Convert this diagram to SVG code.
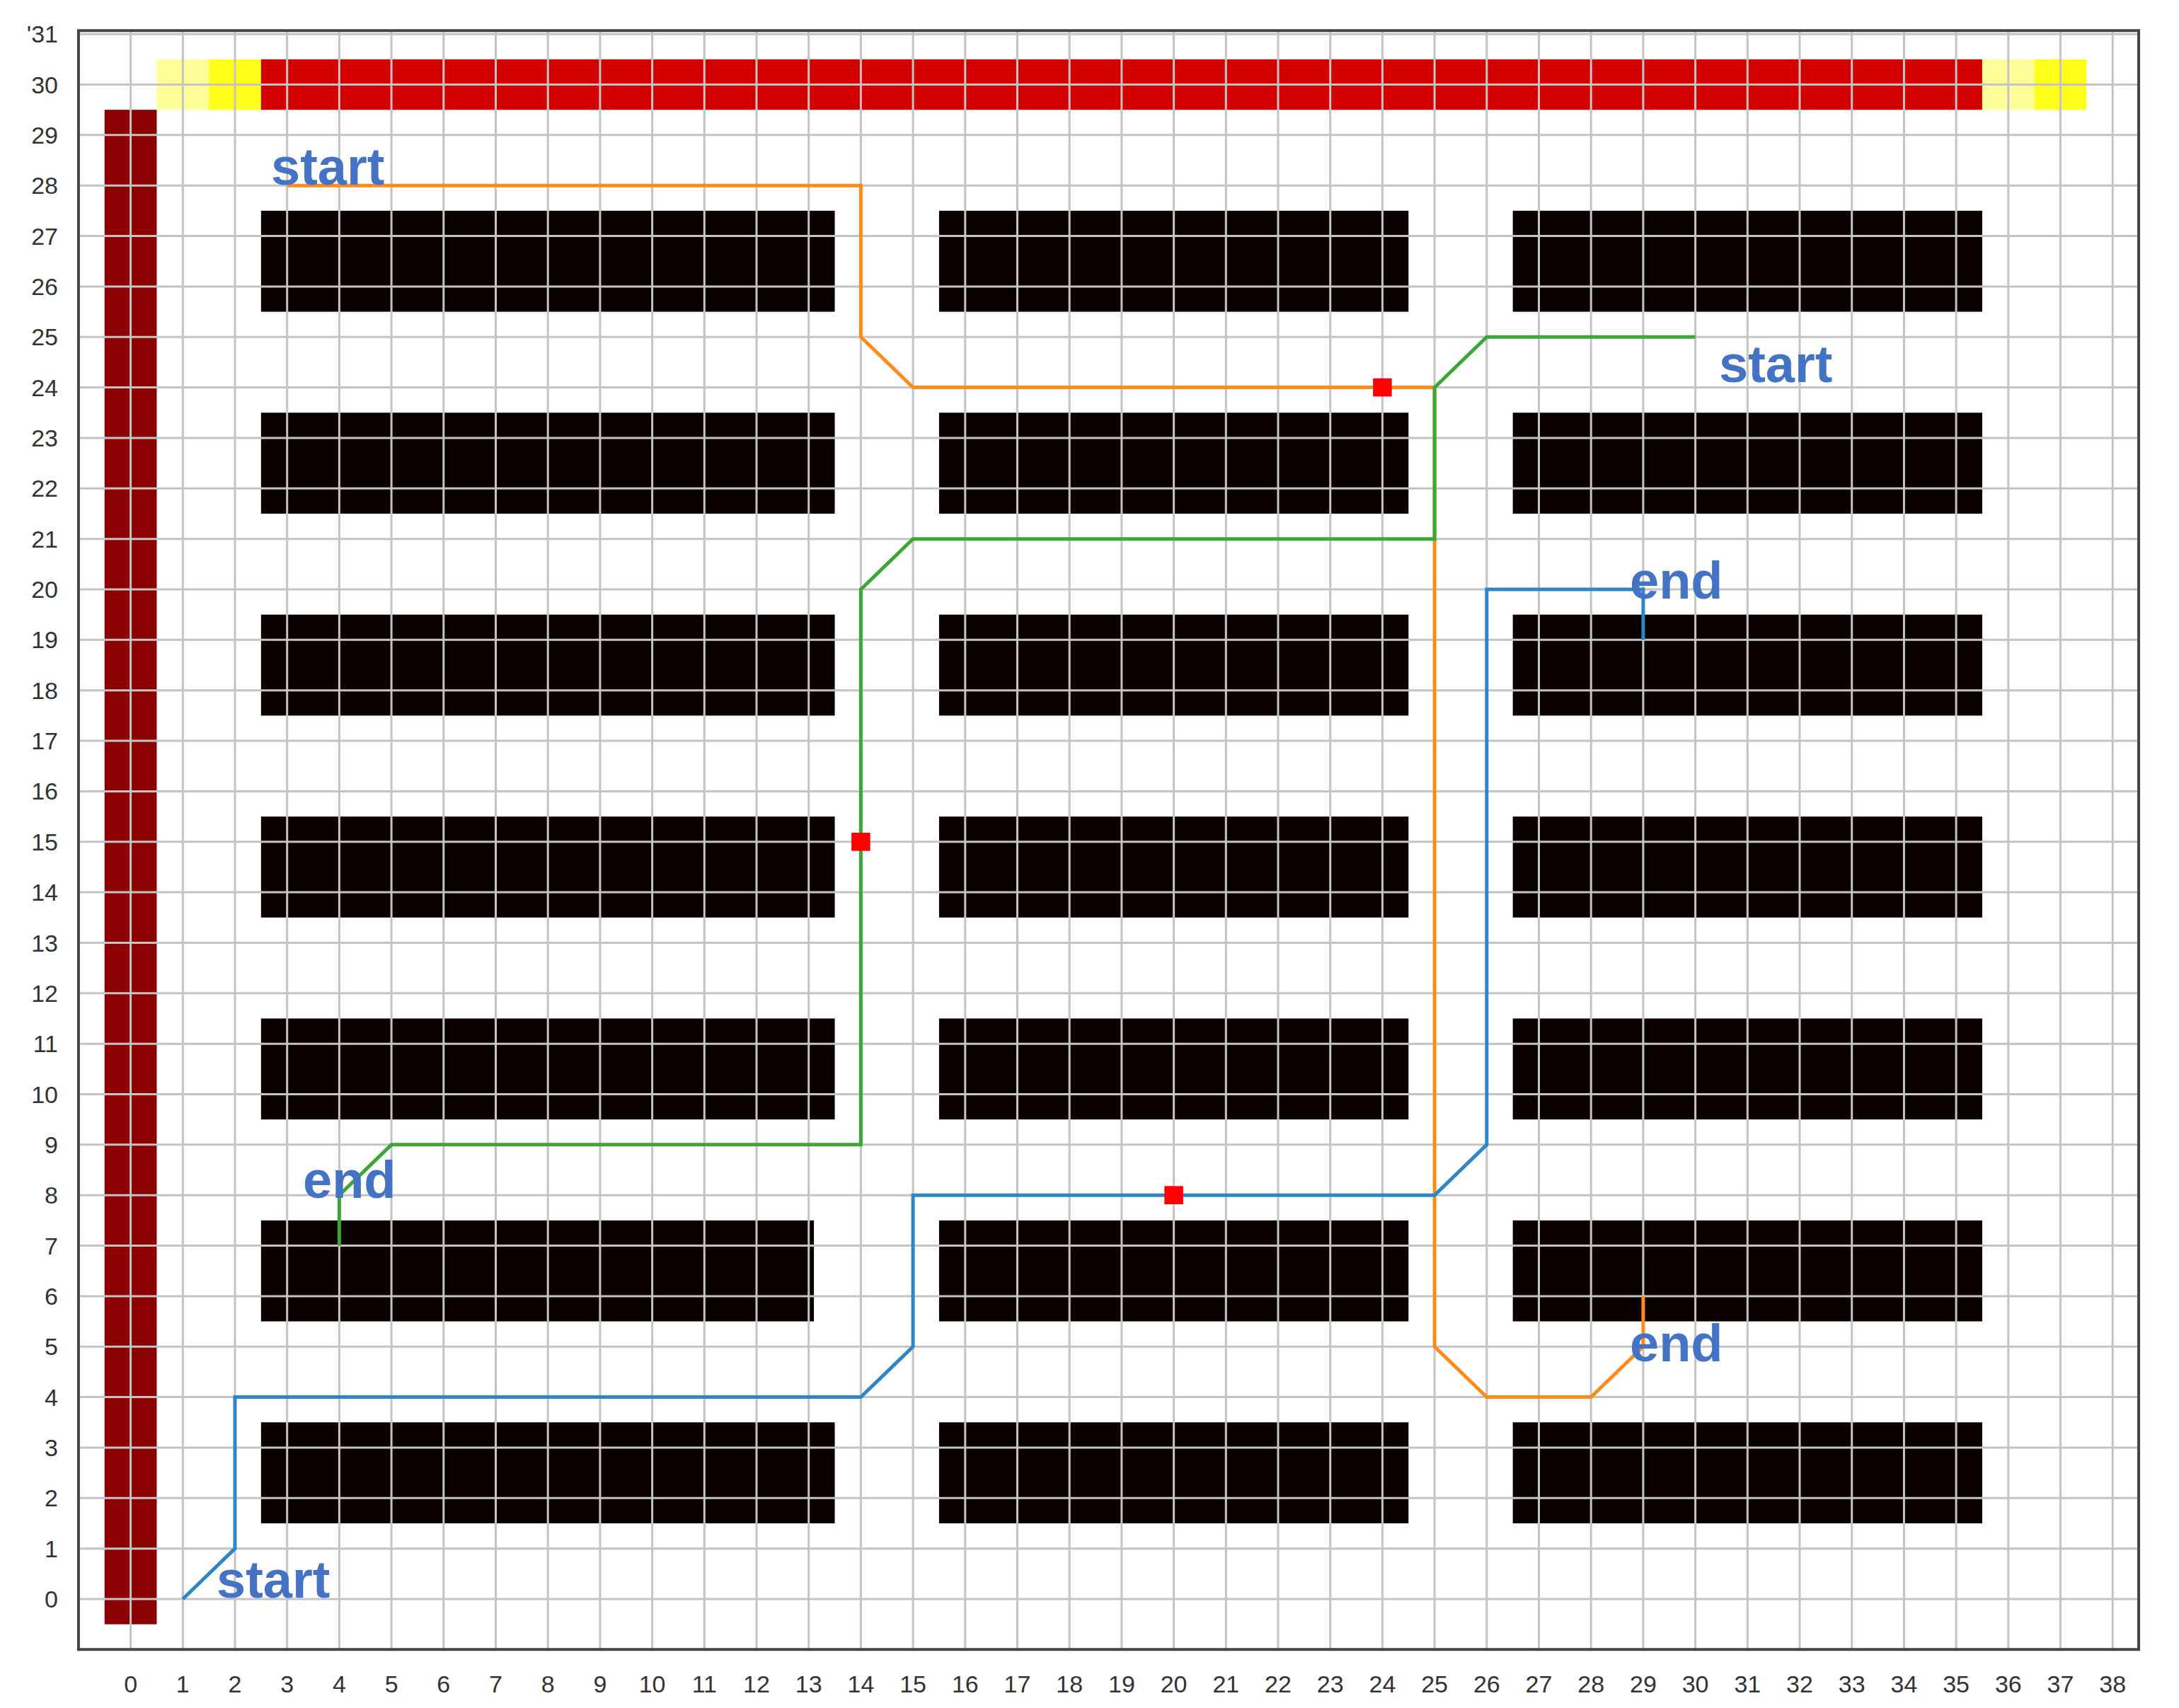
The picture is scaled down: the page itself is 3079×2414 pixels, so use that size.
<svg xmlns="http://www.w3.org/2000/svg" width="3079" height="2414" viewBox="0 0 3079 2414">
<style>
.g{stroke:#c4c4c4;stroke-width:3;vector-effect:non-scaling-stroke;fill:none}
.p{stroke-width:5;fill:none;stroke-linejoin:miter;vector-effect:non-scaling-stroke}
.blk{fill:#0a0000}
.t{font-family:"Liberation Sans",Arial,sans-serif;font-size:34px;fill:#333}
.lb{font-family:"Liberation Sans",Arial,sans-serif;font-size:74px;font-weight:bold;fill:#4472c4}
.mk{fill:#ff0000}
</style>
<rect width="3079" height="2414" fill="#fff"/>
<g id="plot" transform="translate(184.6,2260) scale(73.7,-71.35)">
  <g id="areas">
    <rect x="-0.5" y="-0.5" width="1" height="30" fill="#8b0000"/>
    <rect x="0.5" y="29.5" width="1" height="1" fill="#ffff99"/>
    <rect x="1.5" y="29.5" width="1" height="1" fill="#ffff1a"/>
    <rect x="2.5" y="29.5" width="33" height="1" fill="#d40000"/>
    <rect x="35.5" y="29.5" width="1" height="1" fill="#ffff99"/>
    <rect x="36.5" y="29.5" width="1" height="1" fill="#ffff1a"/>
  </g>
  <g id="racks">
    <rect class="blk" x="2.5" y="25.5" width="11" height="2"/>
    <rect class="blk" x="15.5" y="25.5" width="9" height="2"/>
    <rect class="blk" x="26.5" y="25.5" width="9" height="2"/>
    <rect class="blk" x="2.5" y="21.5" width="11" height="2"/>
    <rect class="blk" x="15.5" y="21.5" width="9" height="2"/>
    <rect class="blk" x="26.5" y="21.5" width="9" height="2"/>
    <rect class="blk" x="2.5" y="17.5" width="11" height="2"/>
    <rect class="blk" x="15.5" y="17.5" width="9" height="2"/>
    <rect class="blk" x="26.5" y="17.5" width="9" height="2"/>
    <rect class="blk" x="2.5" y="13.5" width="11" height="2"/>
    <rect class="blk" x="15.5" y="13.5" width="9" height="2"/>
    <rect class="blk" x="26.5" y="13.5" width="9" height="2"/>
    <rect class="blk" x="2.5" y="9.5" width="11" height="2"/>
    <rect class="blk" x="15.5" y="9.5" width="9" height="2"/>
    <rect class="blk" x="26.5" y="9.5" width="9" height="2"/>
    <rect class="blk" x="2.5" y="5.5" width="10.6" height="2"/>
    <rect class="blk" x="15.5" y="5.5" width="9" height="2"/>
    <rect class="blk" x="26.5" y="5.5" width="9" height="2"/>
    <rect class="blk" x="2.5" y="1.5" width="11" height="2"/>
    <rect class="blk" x="15.5" y="1.5" width="9" height="2"/>
    <rect class="blk" x="26.5" y="1.5" width="9" height="2"/>
  </g>
  <g id="grid">
    <path class="g" d="M0 -1V31.07M1 -1V31.07M2 -1V31.07M3 -1V31.07M4 -1V31.07M5 -1V31.07M6 -1V31.07M7 -1V31.07M8 -1V31.07M9 -1V31.07M10 -1V31.07M11 -1V31.07M12 -1V31.07M13 -1V31.07M14 -1V31.07M15 -1V31.07M16 -1V31.07M17 -1V31.07M18 -1V31.07M19 -1V31.07M20 -1V31.07M21 -1V31.07M22 -1V31.07M23 -1V31.07M24 -1V31.07M25 -1V31.07M26 -1V31.07M27 -1V31.07M28 -1V31.07M29 -1V31.07M30 -1V31.07M31 -1V31.07M32 -1V31.07M33 -1V31.07M34 -1V31.07M35 -1V31.07M36 -1V31.07M37 -1V31.07M38 -1V31.07"/>
    <path class="g" d="M-1 0H38.5M-1 1H38.5M-1 2H38.5M-1 3H38.5M-1 4H38.5M-1 5H38.5M-1 6H38.5M-1 7H38.5M-1 8H38.5M-1 9H38.5M-1 10H38.5M-1 11H38.5M-1 12H38.5M-1 13H38.5M-1 14H38.5M-1 15H38.5M-1 16H38.5M-1 17H38.5M-1 18H38.5M-1 19H38.5M-1 20H38.5M-1 21H38.5M-1 22H38.5M-1 23H38.5M-1 24H38.5M-1 25H38.5M-1 26H38.5M-1 27H38.5M-1 28H38.5M-1 29H38.5M-1 30H38.5M-1 31H38.5"/>
  </g>
  <g id="connectors">
    <polyline class="p" stroke="#ff8c1a" points="3,28 14,28 14,25 15,24 25,24 25,5 26,4 28,4 29,5 29,6"/>
    <polyline class="p" stroke="#3aa835" points="30,25 26,25 25,24 25,21 15,21 14,20 14,9 5,9 4,8 4,7"/>
    <polyline class="p" stroke="#2e86c8" points="1,0 2,1 2,4 14,4 15,5 15,8 25,8 26,9 26,20 29,20 29,19"/>
  </g>
  <g id="markers">
    <rect class="mk" x="23.82" y="23.82" width="0.36" height="0.36"/>
    <rect class="mk" x="13.82" y="14.82" width="0.36" height="0.36"/>
    <rect class="mk" x="19.82" y="7.82" width="0.36" height="0.36"/>
  </g>
  <rect x="-1" y="-1" width="39.5" height="32.07" fill="none" stroke="#444" stroke-width="4" vector-effect="non-scaling-stroke"/>
</g>
<g id="labels">
  <text class="lb" x="383" y="261">start</text>
  <text class="lb" x="2429" y="540">start</text>
  <text class="lb" x="2303" y="846">end</text>
  <text class="lb" x="428" y="1693">end</text>
  <text class="lb" x="2303" y="1924">end</text>
  <text class="lb" x="306" y="2258">start</text>
</g>
<g id="xticks" class="t" text-anchor="middle">
<text x="184.6" y="2392">0</text><text x="258.3" y="2392">1</text><text x="332" y="2392">2</text><text x="405.7" y="2392">3</text><text x="479.4" y="2392">4</text><text x="553.1" y="2392">5</text><text x="626.8" y="2392">6</text><text x="700.5" y="2392">7</text><text x="774.2" y="2392">8</text><text x="847.9" y="2392">9</text><text x="921.6" y="2392">10</text><text x="995.3" y="2392">11</text><text x="1069" y="2392">12</text><text x="1142.7" y="2392">13</text><text x="1216.4" y="2392">14</text><text x="1290.1" y="2392">15</text><text x="1363.8" y="2392">16</text><text x="1437.5" y="2392">17</text><text x="1511.2" y="2392">18</text><text x="1584.9" y="2392">19</text><text x="1658.6" y="2392">20</text><text x="1732.3" y="2392">21</text><text x="1806" y="2392">22</text><text x="1879.7" y="2392">23</text><text x="1953.4" y="2392">24</text><text x="2027.1" y="2392">25</text><text x="2100.8" y="2392">26</text><text x="2174.5" y="2392">27</text><text x="2248.2" y="2392">28</text><text x="2321.9" y="2392">29</text><text x="2395.6" y="2392">30</text><text x="2469.3" y="2392">31</text><text x="2543" y="2392">32</text><text x="2616.7" y="2392">33</text><text x="2690.4" y="2392">34</text><text x="2764.1" y="2392">35</text><text x="2837.8" y="2392">36</text><text x="2911.5" y="2392">37</text><text x="2985.2" y="2392">38</text>
</g>
<g id="yticks" class="t" text-anchor="end">
<text x="82" y="2272">0</text><text x="82" y="2200.6">1</text><text x="82" y="2129.3">2</text><text x="82" y="2058">3</text><text x="82" y="1986.6">4</text><text x="82" y="1915.3">5</text><text x="82" y="1843.9">6</text><text x="82" y="1772.6">7</text><text x="82" y="1701.2">8</text><text x="82" y="1629.9">9</text><text x="82" y="1558.5">10</text><text x="82" y="1487.2">11</text><text x="82" y="1415.8">12</text><text x="82" y="1344.5">13</text><text x="82" y="1273.1">14</text><text x="82" y="1201.8">15</text><text x="82" y="1130.4">16</text><text x="82" y="1059.1">17</text><text x="82" y="987.7">18</text><text x="82" y="916.4">19</text><text x="82" y="845">20</text><text x="82" y="773.7">21</text><text x="82" y="702.3">22</text><text x="82" y="631">23</text><text x="82" y="559.6">24</text><text x="82" y="488.3">25</text><text x="82" y="416.9">26</text><text x="82" y="345.6">27</text><text x="82" y="274.2">28</text><text x="82" y="202.9">29</text><text x="82" y="131.5">30</text><text x="82" y="60.2">'31</text>
</g>
</svg>
